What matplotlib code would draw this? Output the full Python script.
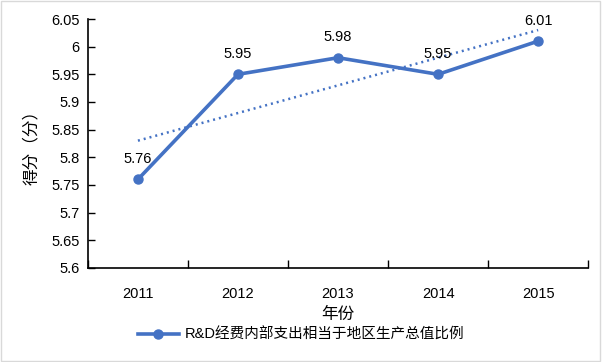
import numpy as np
import matplotlib
matplotlib.use('Agg')
import matplotlib.pyplot as plt
from matplotlib.patches import Rectangle

plt.rcParams['font.family'] = ['Liberation Sans', 'Noto Sans CJK SC', 'DejaVu Sans']

# 数据
years = ['2011', '2012', '2013', '2014', '2015']
scores = [5.76, 5.95, 5.98, 5.95, 6.01]
series_name = 'R&D经费内部支出相当于地区生产总值比例'
y_ticks = [5.6, 5.65, 5.7, 5.75, 5.8, 5.85, 5.9, 5.95, 6, 6.05]

color = '#4472C4'

fig = plt.figure(figsize=(6.02, 3.62), dpi=100)
ax = fig.add_axes([0.146, 0.26, 0.831, 0.6875])

x = np.arange(1, len(years) + 1)
line, = ax.plot(x, scores, color=color, lw=2.6, marker='o', ms=6.5, label=series_name)

# 线性趋势线
k, b = np.polyfit(x, scores, 1)
ax.plot(x, k * x + b, color=color, lw=1.8, linestyle=(0, (0.8, 1.6)))

# 数据标签
for xi, yi in zip(x, scores):
    ax.text(xi, yi + 0.024, f'{yi:g}', ha='center', va='bottom', fontsize=10.5)

ax.set_xlim(0.5, 5.5)
ax.set_ylim(5.6, 6.05)
ax.set_yticks(y_ticks)
ax.set_yticklabels([f'{t:g}' for t in y_ticks], fontsize=10.5)
ax.set_xticks(x)
ax.set_xticklabels(years, fontsize=10.5)
ax.set_xticks(np.arange(0.5, 6.0, 1.0), minor=True)
ax.tick_params(axis='x', which='major', length=0, pad=14)
ax.tick_params(axis='x', which='minor', length=6, direction='in', width=1)
ax.tick_params(axis='y', which='major', length=5, direction='in', width=1, pad=6)

for s in ['top', 'right']:
    ax.spines[s].set_visible(False)
for s in ['left', 'bottom']:
    ax.spines[s].set_linewidth(1.2)
    ax.spines[s].set_color('black')

ax.set_xlabel('年份', fontsize=12, family=['Noto Sans CJK SC'], labelpad=3)
ax.set_ylabel('得分（分）', fontsize=12, family=['Noto Sans CJK SC'], labelpad=8)

fig.legend(handles=[line], loc='center', bbox_to_anchor=(0.5, 0.075), frameon=False,
           prop={'family': ['Liberation Sans', 'Noto Sans CJK SC'], 'size': 10.5},
           handlelength=2.8, handletextpad=0.4)

fig.patches.append(Rectangle((0.002, 0.003), 0.995, 0.993, transform=fig.transFigure,
                             fill=False, edgecolor='#d9d9d9', lw=1))

plt.savefig('out.png', dpi=100)
